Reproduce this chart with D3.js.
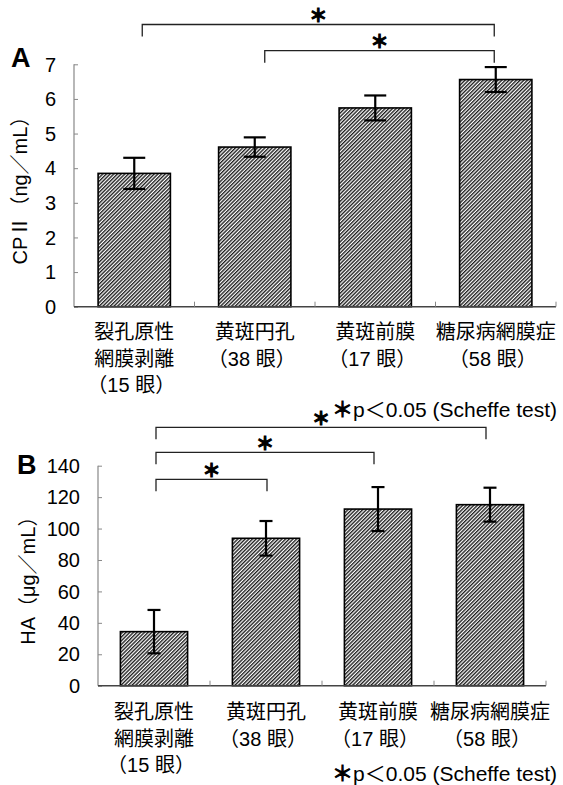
<html>
<head>
<meta charset="utf-8">
<script src="https://d3js.org/d3.v7.min.js"></script>
<style>
  body { margin: 0; background: #fff; }
  text { font-family: "Liberation Sans", Arial, "Noto Sans CJK JP", sans-serif; }
</style>
</head>
<body>
<div id="chart"></div>
<script>

// categories (each entry = label lines)
var categories = [
  ["裂孔原性", "網膜剥離", "（15 眼）"],
  ["黄斑円孔", "（38 眼）"],
  ["黄斑前膜", "（17 眼）"],
  ["糖尿病網膜症", "（58 眼）"]
]

// panel A: CPII
var cp2_mean = [3.85, 4.61, 5.74, 6.56]
var cp2_err = [0.45, 0.28, 0.36, 0.36]
var cp2_ticks = [0, 1, 2, 3, 4, 5, 6, 7]
var cp2_pairs = [[0, 3], [1, 3]]

// panel B: HA
var ha_mean = [34.4, 93.8, 112.4, 115.2]
var ha_err = [13.8, 11.0, 14.0, 10.8]
var ha_ticks = [0, 20, 40, 60, 80, 100, 120, 140]
var ha_pairs = [[0, 3], [0, 2], [0, 1]]

var footnote = "p＜0.05 (Scheffe test)"

var svg_width = 563
var svg_height = 785

var svg = d3.select("#chart").append("svg")
  .attr("width", svg_width)
  .attr("height", svg_height)

// hatch fill
var hs = 2.6
var pat = svg.append("defs").append("pattern")
  .attr("id", "hatch")
  .attr("patternUnits", "userSpaceOnUse")
  .attr("width", hs)
  .attr("height", hs)
  .attr("patternTransform", "rotate(45)")
pat.append("rect").attr("width", hs).attr("height", hs).style("fill", "#fff")
pat.append("line")
  .attr("x1", 0.7).attr("y1", 0).attr("x2", 0.7).attr("y2", hs)
  .style("stroke", "#111").style("stroke-width", 1.3)

var draw_panel = function(p) {
  var g = svg.append("g")

  var x = d3.scaleBand()
    .domain(d3.range(categories.length))
    .range([p.left, p.right])
    .paddingInner(0.4)
    .paddingOuter(0.2)

  var y = d3.scaleLinear()
    .domain([0, p.ticks[p.ticks.length - 1]])
    .range([p.bottom, p.top])

  // y axis (ticks inside)
  var yAxis = g.append("g")
    .attr("transform", "translate(" + p.left + ",0)")
    .call(d3.axisRight(y).tickValues(p.ticks).tickSize(4).tickFormat(""))
  yAxis.select(".domain").attr("d", "M0," + p.bottom + "V" + p.top).style("stroke", "#888").style("stroke-width", 1.2)
  yAxis.selectAll(".tick line").style("stroke", "#888")

  g.selectAll(".ylab")
    .data(p.ticks)
    .enter().append("text")
    .attr("x", p.left - 18)
    .attr("y", function(d) { return y(d) })
    .attr("dy", "0.36em")
    .attr("text-anchor", "end")
    .attr("font-size", 20)
    .text(function(d) { return d })

  // bars
  g.selectAll(".bar")
    .data(p.mean)
    .enter().append("rect")
    .attr("x", function(d, i) { return x(i) })
    .attr("y", function(d) { return y(d) })
    .attr("width", x.bandwidth())
    .attr("height", function(d) { return p.bottom - y(d) })
    .style("fill", "url(#hatch)")
    .style("stroke", "#000")
    .style("stroke-width", 1.6)

  // error bars
  var cx = function(i) { return x(i) + x.bandwidth() / 2 }
  p.mean.forEach(function(m, i) {
    var e = p.err[i]
    g.append("line")
      .attr("x1", cx(i)).attr("x2", cx(i))
      .attr("y1", y(m + e)).attr("y2", y(m - e))
      .style("stroke", "#000").style("stroke-width", 2.2)
    ;[m + e, m - e].forEach(function(v) {
      g.append("line")
        .attr("x1", cx(i) - p.cap / 2).attr("x2", cx(i) + p.cap / 2)
        .attr("y1", y(v)).attr("y2", y(v))
        .style("stroke", "#000").style("stroke-width", 2.2)
    })
  })

  // x axis with boundary ticks
  g.append("line")
    .attr("x1", p.left).attr("x2", p.right)
    .attr("y1", p.bottom).attr("y2", p.bottom)
    .style("stroke", "#444").style("stroke-width", 1.4)
  d3.range(1, categories.length + 1).forEach(function(i) {
    var bx = p.left + x.step() * i
    g.append("line")
      .attr("x1", bx).attr("x2", bx)
      .attr("y1", p.bottom).attr("y2", p.bottom - 5)
      .style("stroke", "#888")
  })

  // category labels
  categories.forEach(function(lines, i) {
    lines.forEach(function(t, j) {
      g.append("text")
        .attr("x", cx(i) + (t.charAt(0) == "（" ? -3 : 0))
        .attr("y", p.label_y + j * 26.5)
        .attr("text-anchor", "middle")
        .attr("font-size", 20)
        .text(t)
    })
  })

  var foot = g.append("text")
    .attr("x", 557)
    .attr("y", p.foot_y)
    .attr("text-anchor", "end")
    .attr("font-size", 21)
  foot.append("tspan")
    .style("stroke", "#000")
    .style("stroke-width", 1)
    .text("＊")
  foot.append("tspan").text(footnote)

  // y title
  g.append("text")
    .attr("transform", "translate(" + p.title_x + "," + ((p.top + p.bottom) / 2) + ") rotate(-90)")
    .attr("text-anchor", "middle")
    .attr("dy", "0.36em")
    .attr("font-size", 20)
    .text(p.title)

  // panel letter
  g.append("text")
    .attr("x", p.letter_x)
    .attr("y", p.letter_y)
    .attr("font-family", "'Liberation Serif', 'Times New Roman', serif")
    .attr("font-weight", "bold")
    .attr("font-size", 27)
    .text(p.letter)

  // significance brackets
  p.pairs.forEach(function(pr, k) {
    var by = p.bracket_y[k]
    var x1 = cx(pr[0]) + p.bracket_dx[pr[0]]
    var x2 = cx(pr[1]) + p.bracket_dx[pr[1]]
    g.append("path")
      .attr("d", "M" + x1 + "," + (by + 12) + "V" + by + "H" + x2 + "V" + (by + 12))
      .style("fill", "none")
      .style("stroke", "#222")
      .style("stroke-width", 1.3)
    g.append("text")
      .attr("x", (x1 + x2) / 2)
      .attr("y", by - 9)
      .attr("dy", "0.36em")
      .attr("text-anchor", "middle")
      .attr("font-family", "'Noto Sans CJK JP', sans-serif")
      .attr("font-weight", "bold")
      .attr("font-size", 18)
      .style("stroke", "#000")
      .style("stroke-width", 1.2)
      .text("＊")
  })
}

draw_panel({
  left: 74, right: 556, top: 64.3, bottom: 306.7,
  ticks: cp2_ticks, mean: cp2_mean, err: cp2_err, cap: 22,
  pairs: cp2_pairs, bracket_y: [24.5, 50.7], bracket_dx: [8, 10, 0, -1.5],
  label_y: 339, foot_y: 417,
  title: "CPⅡ（ng／mL）", title_x: 20,
  letter: "A", letter_x: 11, letter_y: 67
})

draw_panel({
  left: 98, right: 546, top: 465.7, bottom: 685.7,
  ticks: ha_ticks, mean: ha_mean, err: ha_err, cap: 13,
  pairs: ha_pairs, bracket_y: [427.3, 452.3, 479.3], bracket_dx: [2, 1, -4, -4],
  label_y: 719, foot_y: 781,
  title: "HA（μg／mL）", title_x: 28,
  letter: "B", letter_x: 17, letter_y: 474
})

</script>
</body>
</html>
